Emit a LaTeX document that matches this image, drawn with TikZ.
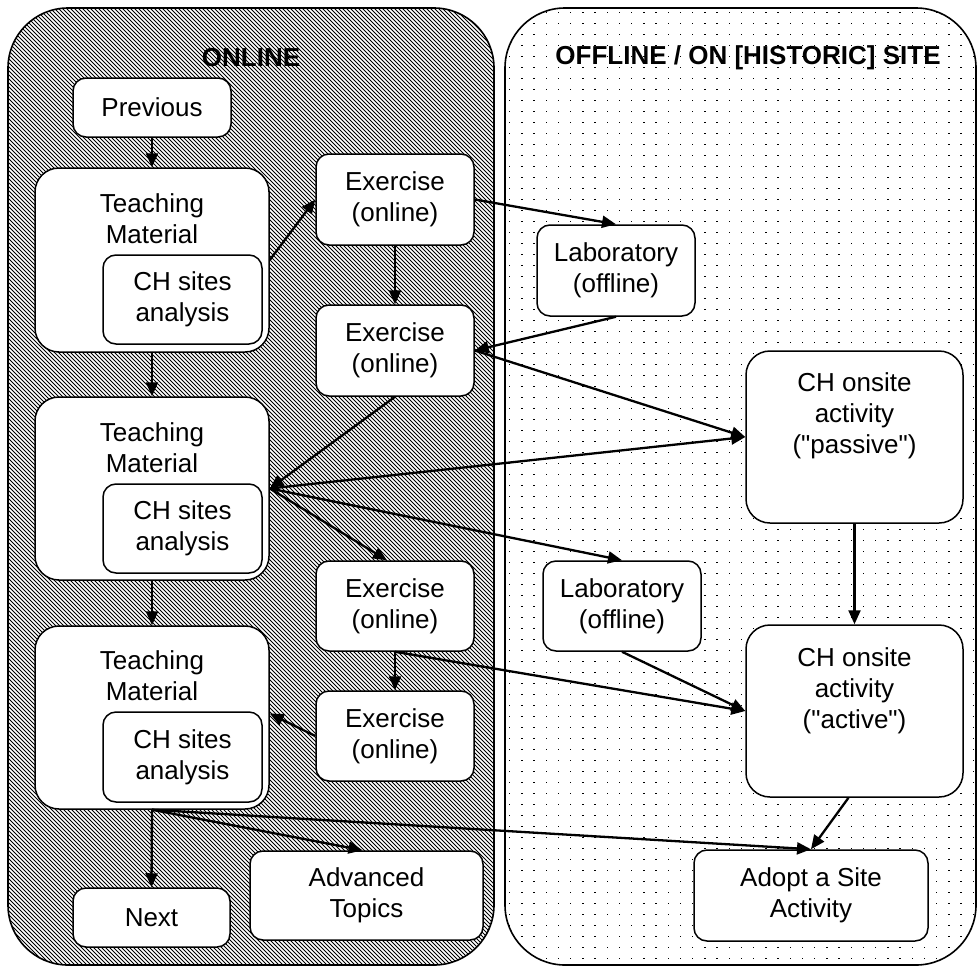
\documentclass[tikz,border=0pt]{standalone}
\usepackage{fontspec}
\setmainfont{Liberation Sans}[Ligatures=TeXOff]
\usetikzlibrary{arrows.meta,calc}
\newcommand{\fs}{\fontsize{26}{31}\selectfont}
\begin{document}
\begin{tikzpicture}[x=1pt,y=-1pt,
  box/.style={draw, line width=1.5pt, fill=white, rounded corners=13pt, inner sep=0pt, align=center, font=\fs},
  bigbox/.style={box, rounded corners=24pt},
  lbl/.style={align=center, font=\fs, inner sep=0pt},
  ttl/.style={font=\fs\bfseries, inner sep=0pt},
  arr/.style={line width=2.3pt, -{Triangle[length=14pt,width=12pt]}},
  cont/.style={line width=1.6pt, rounded corners=60pt},
  hatch/.style={line width=0.95pt}
]
\useasboundingbox (0,0) rectangle (979,969);

% left container: diagonal hatch
\begin{scope}
  \clip[rounded corners=60pt] (8,8) rectangle (494,965);
  \foreach \a in {-970,-966,...,498} {
    \draw[hatch] (\a,0) -- ({\a+975},975);
  }
\end{scope}
\draw[cont] (8,8) rectangle (494,965);

% right container: dots
\begin{scope}
  \clip[rounded corners=60pt] (505,8) rectangle (976,965);
  \foreach \i in {0,...,38} {
    \foreach \j in {0,...,87} {
      \fill ({509+12.2*\i},{12+11*\j}) rectangle +(1.4,1.4);
    }
  }
\end{scope}
\draw[cont] (505,8) rectangle (976,965);

\node[ttl] (tonline) at (251,58) {ONLINE};
\node[ttl] (toffline) at (748,58) {OFFLINE / ON [HISTORIC] SITE};

% online column
\node[box, minimum width=158pt, minimum height=59pt] (prev) at (152,107.5) {Previous};

\node[bigbox, minimum width=234pt, minimum height=184pt] (tm1) at (152,260) {};
\node[lbl] (tm1t) at (152,218.5) {Teaching\\Material};
\node[box, minimum width=159pt, minimum height=89pt] (tm1in) at (182.5,299.5) {CH sites\\analysis};

\node[bigbox, minimum width=234pt, minimum height=183pt] (tm2) at (152,488.5) {};
\node[lbl] (tm2t) at (152,447.5) {Teaching\\Material};
\node[box, minimum width=159pt, minimum height=89pt] (tm2in) at (182.5,528.5) {CH sites\\analysis};

\node[bigbox, minimum width=234pt, minimum height=183pt] (tm3) at (152,717.5) {};
\node[lbl] (tm3t) at (152,676) {Teaching\\Material};
\node[box, minimum width=159pt, minimum height=90pt] (tm3in) at (182.5,757) {CH sites\\analysis};

\node[box, minimum width=157pt, minimum height=59pt] (next) at (151.5,917.5) {Next};
\node[box, minimum width=233pt, minimum height=89pt] (adv) at (366.5,895.5) {Advanced\\Topics};

\node[box, minimum width=158pt, minimum height=91pt] (ex1) at (395,199.5) {Exercise\\(online)};
\node[box, minimum width=158pt, minimum height=91pt] (ex2) at (395,350.5) {Exercise\\(online)};
\node[box, minimum width=158pt, minimum height=90pt] (ex3) at (395,606) {Exercise\\(online)};
\node[box, minimum width=158pt, minimum height=90pt] (ex4) at (395,736) {Exercise\\(online)};

% offline column
\node[box, minimum width=158pt, minimum height=91pt] (lab1) at (616,270.5) {Laboratory\\(offline)};
\node[box, minimum width=158pt, minimum height=90pt] (lab2) at (622,606) {Laboratory\\(offline)};

\node[bigbox, minimum width=217pt, minimum height=172pt] (pas) at (854.5,437) {};
\node[lbl] (past) at (854.5,416) {CH onsite\\activity\\("passive")};
\node[bigbox, minimum width=217pt, minimum height=172pt] (act) at (854.5,711) {};
\node[lbl] (actt) at (854.5,691) {CH onsite\\activity\\("active")};

\node[box, minimum width=234pt, minimum height=91pt] (adopt) at (811,895.5) {Adopt a Site\\Activity};

% connectors
\draw[arr] (prev) -- (tm1);
\draw[arr] (tm1) -- (tm2);
\draw[arr] (tm2) -- (tm3);
\draw[arr] (tm3.south) -- (next.north);
\draw[arr] (tm1.east) -- (ex1.west);
\draw[arr] (ex1) -- (ex2);
\draw[arr] (ex1.east) -- (lab1.north);
\draw[arr] (lab1.south) -- (ex2.east);
\draw[arr] (ex2.east) -- (pas.west);
\draw[arr] (ex2.south) -- (tm2.east);
\draw[arr] (tm2.east) -- (pas.west);
\draw[arr] (tm2.east) -- ([xshift=-8pt]ex3.north);
\draw[arr] (tm2.east) -- (lab2.north);
\draw[arr] (ex3) -- (ex4);
\draw[arr] (ex3.south) -- (act.west);
\draw[arr] (lab2.south) -- (act.west);
\draw[arr] (ex4.west) -- ([yshift=4pt]tm3.east);
\draw[arr] (pas) -- (act);
\draw[arr] ([xshift=-6pt]act.south) -- (adopt.north);
\draw[arr] (tm3.south) -- (adopt.north);
\draw[arr] (tm3.south) -- ([xshift=-4pt]adv.north);
\end{tikzpicture}
\end{document}
